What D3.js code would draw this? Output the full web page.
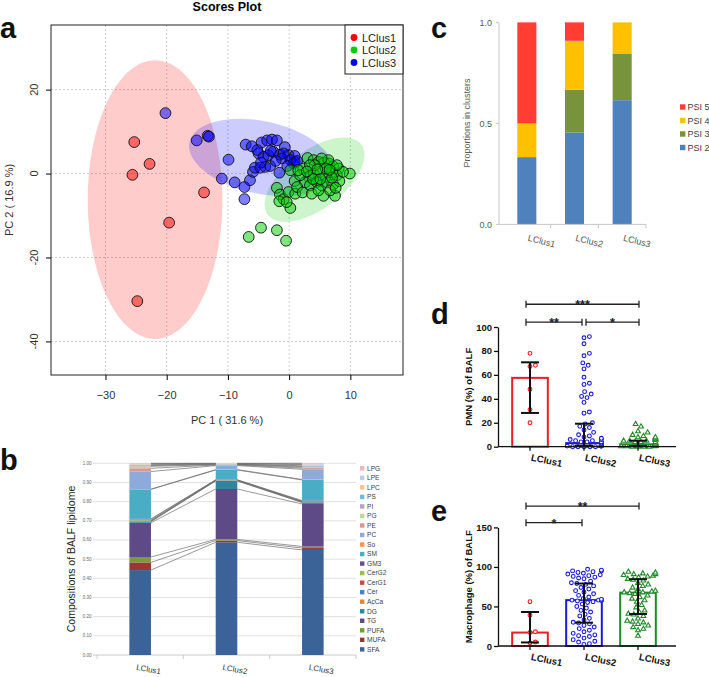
<!DOCTYPE html>
<html>
<head>
<meta charset="utf-8">
<script src="https://cdn.jsdelivr.net/npm/d3@7"></script>
<style>
  body { margin: 0; background: #fff; }
  svg { display: block; font-family: 'Liberation Sans', Arial, sans-serif; }
</style>
</head>
<body>
<div id="chart"></div>
<script>
// ---------- data ----------
const clusters = ['LClus1', 'LClus2', 'LClus3']

// panel a: PCA scores [PC1, PC2]
const lclus1Scores = [[-25.3, 7.5], [-22.8, 2.3], [-25.6, -0.3], [-13.9, -4.5], [-19.6, -11.7], [-24.8, -30.4]]
const lclus3Scores = [
  [-20.2, 14.4], [-15.1, 7.9], [-13.3, 9.0], [-13.1, 8.8], [-9.9, 3.3], [-11.0, -1.2], [-8.9, -2.1],
  [-7.3, -3.2], [-7.3, -6.1], [-6.4, -1.6], [-5.9, 0.4], [-5.6, 1.4], [-4.7, 1.4], [-3.9, 1.6],
  [-3.1, 1.8], [-7.1, 6.9], [-6.1, 6.5], [-4.5, 7.4], [-3.6, 7.9], [-2.8, 8.1], [-2.0, 7.9],
  [-5.0, 4.8], [-4.2, 4.0], [-3.4, 4.4], [-2.6, 5.2], [-1.5, 4.5], [-0.7, 6.3], [-0.1, 4.4],
  [0.9, 4.2], [0.7, 2.4], [0.9, 2.8], [-0.9, 4.8], [-1.6, 0.2], [-3.0, 5.4], [-1.2, 3.6],
  [-2.2, 3.0], [0.2, 3.2], [1.3, 3.0], [-4.6, 2.6], [-5.2, 5.6], [-0.3, 1.8]
]
const lclus2Scores = [
  [-6.6, -15.1], [-4.6, -12.9], [-2.0, -13.5], [-0.5, -16.0],
  [-2.0, -3.4], [-1.5, -5.0], [-0.9, -6.1], [-1.6, -6.6], [0.2, -8.2], [0.9, -1.8], [0.2, 0.8],
  [-0.1, -4.4], [1.0, -4.8], [-0.4, -6.8],
  [3.0, 3.7], [4.0, 3.2], [4.8, 2.8], [5.7, 2.6], [6.5, 2.4], [7.2, 1.7], [8.1, 1.2], [9.9, 0.0],
  [2.3, 1.2], [3.2, -0.8], [4.0, 0.0], [5.1, 0.4], [5.9, -0.8], [7.0, 0.4], [7.8, -0.4],
  [2.6, -2.1], [3.4, -2.8], [4.5, -2.0], [5.3, -2.8], [6.2, -2.1], [7.2, -2.6], [8.2, -1.8],
  [1.3, -3.2], [2.2, -4.5], [3.7, -4.8], [5.6, -5.3], [7.5, -5.3], [6.7, -4.0], [4.8, -4.0],
  [1.8, -0.4], [8.8, 0.4], [7.8, 2.0], [6.4, 3.2], [5.3, 3.6], [4.2, 2.0], [3.4, 2.0], [1.5, 0.8],
  [6.0, 1.2], [7.0, -1.0], [3.9, -1.3], [5.1, -1.3], [6.6, 0.9], [4.6, 1.0], [7.6, -3.4], [2.9, 0.5]
]
// 95% ellipses: centre and two conjugate semi-axis vectors (PC units)
const scoreEllipses = [
  { name: 'LClus1', cx: -21.9, cy: -6.2, ux: 0, uy: 33.2, vx: 11, vy: 0 },
  { name: 'LClus2', cx: 4.15, cy: -1.45, ux: 7.63, uy: 8.38, vx: -2.87, vy: 5.55 },
  { name: 'LClus3', cx: -4.6, cy: 3.85, ux: 11.68, uy: -3.62, vx: 1.23, vy: 8.45 }
]
const scoreXTicks = [-30, -20, -10, 0, 10]
const scoreYTicks = [-40, -20, 0, 20]

// panel b: lipid class composition (bottom to top)
const lipidClasses = ['SFA', 'MUFA', 'PUFA', 'TG', 'DG', 'AcCa', 'Cer', 'CerG1', 'CerG2', 'GM3',
  'SM', 'So', 'PC', 'PE', 'PG', 'PI', 'PS', 'LPC', 'LPE', 'LPG']
const lclus1Lipids = [0.443, 0.040, 0.028, 0.179, 0.006, 0.001, 0.003, 0.002, 0.006, 0.002,
  0.154, 0.001, 0.092, 0.017, 0.010, 0.004, 0.004, 0.003, 0.003, 0.002]
const lclus2Lipids = [0.588, 0.009, 0.006, 0.263, 0.042, 0.001, 0.002, 0.001, 0.001, 0.001,
  0.051, 0.002, 0.021, 0.003, 0.002, 0.002, 0.001, 0.002, 0.001, 0.001]
const lclus3Lipids = [0.548, 0.010, 0.008, 0.222, 0.008, 0.001, 0.003, 0.001, 0.001, 0.004,
  0.107, 0.003, 0.053, 0.006, 0.005, 0.004, 0.003, 0.006, 0.003, 0.004]
const lipidTicks = [0, 0.1, 0.2, 0.3, 0.4, 0.5, 0.6, 0.7, 0.8, 0.9, 1.0]

// panel c: PSI proportions
const psiLevels = ['PSI 2', 'PSI 3', 'PSI 4', 'PSI 5']
const lclus1Psi = [0.333, 0, 0.167, 0.5]
const lclus2Psi = [0.455, 0.212, 0.242, 0.091]
const lclus3Psi = [0.615, 0.231, 0.154, 0]

// panel d: PMN (%) of BALF
const pmnLclus1 = [78, 68, 67, 48, 31, 20]
const pmnLclus2 = [92, 91, 86, 78, 76, 70, 68, 65, 58, 53, 52, 46, 44, 42, 41, 37, 29, 28, 20, 19,
  17, 16, 14, 12, 10, 9, 8, 7, 6, 6, 5, 5, 4, 4, 4, 3, 3, 3, 3, 3, 2, 2, 2, 2, 2, 2, 2,
  1, 1, 1, 1, 1, 1, 1, 1, 0.5, 0.5, 0.5, 0.5, 0, 0, 0, 0, 0]
const pmnLclus3 = [19, 17, 13, 12, 10, 9, 8, 8, 7, 7, 6, 6, 5, 5, 5, 4, 4, 4, 3, 3, 3, 3,
  2, 2, 2, 2, 2, 1, 1, 1, 1, 1, 1, 0.5, 0.5, 0.5, 0, 0, 0, 0]
const pmnMedian = [57.5, 3, 2]
const pmnQ1 = [28.2, 0.9, 0.5]
const pmnQ3 = [70.5, 19.2, 5]
const pmnTicks = [0, 20, 40, 60, 80, 100]
const pmnSig = [{ a: 0, b: 2, level: 119, label: '***' }, { a: 0, b: 1, level: 104, label: '**' }, { a: 1, b: 2, level: 104, label: '*' }]

// panel e: Macrophage (%) of BALF
const macLclus1 = [56, 39, 18, 17, 5, 4]
const macLclus2 = [97, 96, 95, 95, 94, 93, 92, 91, 90, 89, 88, 87, 86, 85, 82, 80, 79, 78, 76, 74,
  72, 70, 68, 66, 64, 62, 60, 59, 58, 58, 58, 58, 58, 57, 56, 55, 53, 50, 48, 45, 43, 40, 38, 35,
  33, 30, 29, 28, 26, 24, 22, 20, 18, 16, 14, 13, 12, 10, 8, 6, 5, 3, 2]
const macLclus3 = [94, 93, 92, 91, 91, 90, 89, 88, 87, 85, 84, 83, 80, 78, 76, 74, 72, 70, 69, 68,
  68, 67, 66, 64, 62, 60, 58, 56, 52, 49, 45, 43, 41, 40, 38, 35, 32, 31, 30, 28, 26, 24, 22, 20, 13]
const macMedian = [17, 58, 67.5]
const macQ1 = [4.5, 29.5, 40.5]
const macQ3 = [43, 79, 84.5]
const macTicks = [0, 50, 100, 150]
const macSig = [{ a: 0, b: 2, level: 177, label: '**' }, { a: 0, b: 1, level: 156, label: '*' }]

// ---------- styles ----------
const scoreColors = ['#ff0000', '#00cd00', '#0000ff']
const lipidColors = ['#3b6397', '#9a3634', '#7a9a3e', '#5e4a86', '#31859c', '#e0863a', '#4f81bd',
  '#c0504d', '#9bbb59', '#6a4f93', '#4bacc6', '#f79646', '#8eaadb', '#d99694', '#c3d69b',
  '#b2a2c7', '#6cc0d6', '#fac08f', '#b9cde5', '#e6b9b8']
const psiColors = ['#4f81bd', '#77933c', '#ffc000', '#ff3d33']
const dotColors = ['#ee1c24', '#1a1adb', '#1f8a2a']

const svg = d3.select('#chart').append('svg').attr('width', 709).attr('height', 677)
svg.append('rect').attr('width', 709).attr('height', 677).attr('fill', '#ffffff')

const panelLabel = (t, x, y) => svg.append('text').attr('x', x).attr('y', y)
  .attr('font-size', 29).attr('font-weight', 'bold').attr('fill', '#111').text(t)

// ================= panel a =================
const xA = d3.scaleLinear().domain([-38.9, 18.6]).range([51, 403])
const yA = d3.scaleLinear().domain([-48, 35.4]).range([375, 25])
const gA = svg.append('g')

gA.selectAll('.gx').data(scoreXTicks).join('line')
  .attr('x1', (d) => xA(d)).attr('x2', (d) => xA(d)).attr('y1', 25).attr('y2', 375)
  .attr('stroke', '#cfcfcf').attr('stroke-dasharray', '2,2')
gA.selectAll('.gy').data(scoreYTicks).join('line')
  .attr('x1', 51).attr('x2', 403).attr('y1', (d) => yA(d)).attr('y2', (d) => yA(d))
  .attr('stroke', '#cfcfcf').attr('stroke-dasharray', '2,2')

const ellipseLine = d3.line().curve(d3.curveLinearClosed)
gA.selectAll('.ell').data(scoreEllipses).join('path')
  .attr('d', (e) => ellipseLine(d3.range(0, 360, 3).map((t) => {
    const r = (t * Math.PI) / 180
    return [xA(e.cx + e.ux * Math.cos(r) + e.vx * Math.sin(r)), yA(e.cy + e.uy * Math.cos(r) + e.vy * Math.sin(r))]
  })))
  .attr('fill', (e, i) => scoreColors[i]).attr('fill-opacity', 0.2)

const drawScores = (pts, color) => {
  gA.append('g').selectAll('circle').data(pts).join('circle')
    .attr('cx', (d) => xA(d[0])).attr('cy', (d) => yA(d[1])).attr('r', 5.4)
    .attr('fill', color).attr('fill-opacity', 0.5)
    .attr('stroke', '#111').attr('stroke-width', 0.9)
}
drawScores(lclus1Scores, scoreColors[0])
drawScores(lclus3Scores, scoreColors[2])
drawScores(lclus2Scores, scoreColors[1])

gA.append('rect').attr('x', 51).attr('y', 25).attr('width', 352).attr('height', 350)
  .attr('fill', 'none').attr('stroke', '#222')

const axA = gA.append('g').attr('transform', 'translate(0,375)')
  .call(d3.axisBottom(xA).tickValues(scoreXTicks).tickSize(5).tickPadding(11).tickSizeOuter(0))
axA.select('.domain').remove()
axA.selectAll('text').attr('font-size', 11).attr('fill', '#333').attr('font-family', 'Liberation Sans')

const ayA = gA.append('g').attr('transform', 'translate(51,0)')
  .call(d3.axisLeft(yA).tickValues(scoreYTicks).tickSize(5).tickFormat(''))
ayA.select('.domain').remove()
gA.selectAll('.ylab').data(scoreYTicks).join('text')
  .attr('transform', (d) => `translate(38,${yA(d)}) rotate(-90)`)
  .attr('text-anchor', 'middle').attr('font-size', 11).attr('fill', '#333').text((d) => d)

gA.append('text').attr('x', 227).attr('y', 11).attr('text-anchor', 'middle')
  .attr('font-size', 12.5).attr('font-weight', 'bold').text('Scores Plot')
gA.append('text').attr('x', 227).attr('y', 424).attr('text-anchor', 'middle')
  .attr('font-size', 11).attr('fill', '#333').text('PC 1 ( 31.6 %)')
gA.append('text').attr('transform', 'translate(13,200) rotate(-90)').attr('text-anchor', 'middle')
  .attr('font-size', 11).attr('fill', '#333').text('PC 2 ( 16.9 %)')

const legA = gA.append('g')
legA.append('rect').attr('x', 345).attr('y', 25).attr('width', 58).attr('height', 49)
  .attr('fill', '#fff').attr('stroke', '#222')
clusters.forEach((c, i) => {
  legA.append('circle').attr('cx', 354).attr('cy', 37.5 + i * 12.5).attr('r', 3.4).attr('fill', scoreColors[i])
  legA.append('text').attr('x', 362).attr('y', 41.5 + i * 12.5).attr('font-size', 11).attr('fill', '#222').text(c)
})
panelLabel('a', 0, 38)

// ================= panel b =================
const lipidTable = [lclus1Lipids, lclus2Lipids, lclus3Lipids].map((vals, i) => {
  const row = { cluster: clusters[i] }
  lipidClasses.forEach((k, j) => { row[k] = vals[j] })
  return row
})
const lipidStack = d3.stack().keys(lipidClasses)(lipidTable)
const xB = d3.scaleBand().domain(clusters).range([97, 356])
const yB = d3.scaleLinear().domain([0, 1]).range([655, 463.3])
const barWB = xB.bandwidth() * 0.25
const gB = svg.append('g')

gB.selectAll('.grid').data(lipidTicks).join('line')
  .attr('x1', 93).attr('x2', 356).attr('y1', (d) => yB(d)).attr('y2', (d) => yB(d))
  .attr('stroke', (d) => (d === 0 ? '#bfbfbf' : '#d9d9d9')).attr('stroke-width', 0.8)
gB.selectAll('.tl').data(lipidTicks).join('text')
  .attr('x', 91.5).attr('y', (d) => yB(d) + 1.5).attr('text-anchor', 'end')
  .attr('font-size', 4.5).attr('fill', '#666').text((d) => d.toFixed(2))
gB.selectAll('.xt').data(d3.range(clusters.length + 1)).join('line')
  .attr('x1', (d) => 97 + d * xB.step()).attr('x2', (d) => 97 + d * xB.step())
  .attr('y1', 655).attr('y2', 659).attr('stroke', '#bfbfbf').attr('stroke-width', 0.8)

gB.selectAll('.series').data(lipidStack).join('g')
  .attr('fill', (d, i) => lipidColors[i])
  .selectAll('rect').data((d) => d).join('rect')
  .attr('x', (d) => xB(d.data.cluster) + (xB.bandwidth() - barWB) / 2)
  .attr('y', (d) => yB(d[1])).attr('height', (d) => yB(d[0]) - yB(d[1]))
  .attr('width', barWB)

// series lines between neighbouring bars
lipidStack.forEach((s) => {
  for (let i = 0; i < clusters.length - 1; i++) {
    gB.append('line')
      .attr('x1', xB(clusters[i]) + (xB.bandwidth() + barWB) / 2).attr('y1', yB(s[i][1]))
      .attr('x2', xB(clusters[i + 1]) + (xB.bandwidth() - barWB) / 2).attr('y2', yB(s[i + 1][1]))
      .attr('stroke', '#6f6f6f').attr('stroke-width', 0.7)
  }
})

gB.selectAll('.xl').data(clusters).join('text')
  .attr('transform', (d) => `translate(${xB(d) + xB.bandwidth() / 2 + 8},672) rotate(10)`)
  .attr('text-anchor', 'middle').attr('font-size', 8).attr('fill', '#333').text((d) => d)
gB.append('text').attr('transform', 'translate(75,559) rotate(-90)').attr('text-anchor', 'middle')
  .attr('font-size', 10.5).attr('fill', '#222').text('Compositions of BALF lipidome')

const legB = gB.append('g')
lipidClasses.slice().reverse().forEach((k, i) => {
  const y = 468.3 + i * 9.53
  legB.append('rect').attr('x', 360).attr('y', y - 2.2).attr('width', 4.4).attr('height', 4.4)
    .attr('fill', lipidColors[lipidClasses.length - 1 - i])
  legB.append('text').attr('x', 367).attr('y', y + 2.3).attr('font-size', 6.6).attr('fill', '#404040').text(k)
})
panelLabel('b', 0, 470)

// ================= panel c =================
const psiTable = [lclus1Psi, lclus2Psi, lclus3Psi].map((vals, i) => {
  const row = { cluster: clusters[i] }
  psiLevels.forEach((k, j) => { row[k] = vals[j] })
  return row
})
const psiStack = d3.stack().keys(psiLevels)(psiTable)
const xC = d3.scaleBand().domain(clusters).range([503, 646])
const yC = d3.scaleLinear().domain([0, 1]).range([224.4, 22.4])
const barWC = xC.bandwidth() * 0.4
const gC = svg.append('g')

gC.selectAll('.series').data(psiStack).join('g')
  .attr('fill', (d, i) => psiColors[i])
  .selectAll('rect').data((d) => d).join('rect')
  .attr('x', (d) => xC(d.data.cluster) + (xC.bandwidth() - barWC) / 2)
  .attr('y', (d) => yC(d[1])).attr('height', (d) => yC(d[0]) - yC(d[1]))
  .attr('width', barWC)

gC.append('line').attr('x1', 499).attr('x2', 499).attr('y1', yC(1)).attr('y2', yC(0)).attr('stroke', '#c8c8c8')
gC.append('line').attr('x1', 499).attr('x2', 646).attr('y1', yC(0)).attr('y2', yC(0)).attr('stroke', '#c8c8c8')
gC.selectAll('.yt').data([0, 0.5, 1]).join('line')
  .attr('x1', 496).attr('x2', 499).attr('y1', (d) => yC(d)).attr('y2', (d) => yC(d)).attr('stroke', '#c8c8c8')
gC.selectAll('.yl').data([0, 0.5, 1]).join('text')
  .attr('x', 492).attr('y', (d) => yC(d) + 3.2).attr('text-anchor', 'end')
  .attr('font-size', 9).attr('fill', '#595959').text((d) => d.toFixed(1))
gC.selectAll('.xt').data(d3.range(1, clusters.length + 1)).join('line')
  .attr('x1', (d) => 503 + d * xC.step()).attr('x2', (d) => 503 + d * xC.step())
  .attr('y1', yC(0)).attr('y2', yC(0) + 4).attr('stroke', '#c8c8c8')
gC.selectAll('.xl').data(clusters).join('text')
  .attr('transform', (d) => `translate(${xC(d) + xC.bandwidth() / 2 + 14},244) rotate(15)`)
  .attr('text-anchor', 'middle').attr('font-size', 9).attr('fill', '#595959').text((d) => d)
gC.append('text').attr('transform', 'translate(470,123) rotate(-90)').attr('text-anchor', 'middle')
  .attr('font-size', 9).attr('fill', '#595959').text('Proportions in clusters')

psiLevels.slice().reverse().forEach((k, i) => {
  const y = 107 + i * 13.5
  gC.append('rect').attr('x', 680).attr('y', y - 2.7).attr('width', 5.4).attr('height', 5.4)
    .attr('fill', psiColors[psiLevels.length - 1 - i])
  gC.append('text').attr('x', 687.5).attr('y', y + 3.3).attr('font-size', 9).attr('fill', '#404040').text(k)
})
panelLabel('c', 431, 38)

// ================= panels d and e =================
const swarm = (values, y, r, maxW) => {
  const placed = []
  return values.slice().sort((a, b) => a - b).map((v) => {
    const py = y(v)
    let off = 0
    for (let k = 0; k < 400; k++) {
      const o = (k % 2 ? 1 : -1) * Math.ceil(k / 2) * 0.6
      off = o
      if (Math.abs(o) > maxW) break
      if (placed.every((p) => (p[0] - o) ** 2 + (p[1] - py) ** 2 >= (2 * r) ** 2)) break
    }
    placed.push([off, py])
    return [off, py]
  })
}

const drawDotPanel = (opt) => {
  const g = svg.append('g')
  const x = d3.scaleBand().domain(clusters).range([503, 665])
  const y = d3.scaleLinear().domain(opt.domain).range(opt.range)
  const cx = (i) => x(clusters[i]) + x.bandwidth() / 2
  const barW = x.bandwidth() * 0.66

  // bars (median)
  g.selectAll('.bar').data(opt.median).join('rect')
    .attr('x', (d, i) => cx(i) - barW / 2).attr('y', (d) => y(d))
    .attr('width', barW).attr('height', (d) => y(0) - y(d))
    .attr('fill', 'none').attr('stroke', (d, i) => dotColors[i]).attr('stroke-width', 2)

  // points
  opt.points.forEach((vals, i) => {
    const pos = swarm(vals, y, 2.7, barW / 2 - 1)
    const pg = g.append('g').attr('stroke', dotColors[i]).attr('fill', '#fff').attr('stroke-width', 1.1)
    if (i === 2) {
      pg.selectAll('path').data(pos).join('path')
        .attr('d', (p) => `M${cx(i) + p[0]},${p[1] - 2.6}L${cx(i) + p[0] + 2.4},${p[1] + 1.6}L${cx(i) + p[0] - 2.4},${p[1] + 1.6}Z`)
    } else {
      pg.selectAll('circle').data(pos).join('circle')
        .attr('cx', (p) => cx(i) + p[0]).attr('cy', (p) => p[1]).attr('r', 1.9)
    }
  })

  // IQR error bars
  opt.median.forEach((m, i) => {
    g.append('line').attr('x1', cx(i)).attr('x2', cx(i)).attr('y1', y(opt.q1[i])).attr('y2', y(opt.q3[i]))
      .attr('stroke', '#111').attr('stroke-width', 2)
    ;[opt.q1[i], opt.q3[i]].forEach((q) => {
      g.append('line').attr('x1', cx(i) - 9).attr('x2', cx(i) + 9).attr('y1', y(q)).attr('y2', y(q))
        .attr('stroke', '#111').attr('stroke-width', 2)
    })
  })

  // axes
  const ay = g.append('g').attr('transform', 'translate(498,0)')
    .call(d3.axisLeft(y).tickValues(opt.ticks).tickSize(4).tickPadding(2).tickSizeOuter(0))
  ay.selectAll('path,line').attr('stroke', '#111').attr('stroke-width', 1.3)
  ay.selectAll('text').attr('font-size', 9.5).attr('font-weight', 'bold').attr('fill', '#111')
    .attr('font-family', 'Liberation Sans')
  g.append('line').attr('x1', 498).attr('x2', 676).attr('y1', y(0)).attr('y2', y(0))
    .attr('stroke', '#111').attr('stroke-width', 1.3)
  g.selectAll('.xt').data(clusters).join('line')
    .attr('x1', (d, i) => cx(i)).attr('x2', (d, i) => cx(i)).attr('y1', y(0)).attr('y2', y(0) + 4)
    .attr('stroke', '#111').attr('stroke-width', 1.3)
  g.selectAll('.xl').data(clusters).join('text')
    .attr('transform', (d, i) => `translate(${cx(i) + 16},${y(0) + 17}) rotate(12)`)
    .attr('text-anchor', 'middle').attr('font-size', 9.5).attr('font-weight', 'bold').attr('fill', '#111').text((d) => d)
  g.append('text').attr('transform', `translate(472,${(opt.range[0] + opt.range[1]) / 2}) rotate(-90)`)
    .attr('text-anchor', 'middle').attr('font-size', 9.5).attr('font-weight', 'bold').attr('fill', '#111')
    .text(opt.label)

  // significance brackets
  opt.sig.forEach((s) => {
    const x1 = cx(s.a) - 4 + (s.a > 0 ? 6 : 0)
    const x2 = cx(s.b) + (s.b === 1 && s.a === 0 ? -2 : 1)
    const yy = y(s.level)
    g.append('path').attr('d', `M${x1},${yy - 3.5}V${yy + 3.5}M${x1},${yy}H${x2}M${x2},${yy - 3.5}V${yy + 3.5}`)
      .attr('stroke', '#222').attr('stroke-width', 1.3).attr('fill', 'none')
    g.append('text').attr('x', (x1 + x2) / 2).attr('y', yy + 5).attr('text-anchor', 'middle')
      .attr('font-size', 12.5).attr('font-weight', 'bold').attr('fill', '#222').text(s.label)
  })
}

drawDotPanel({
  domain: [0, 100], range: [446.7, 327], ticks: pmnTicks,
  points: [pmnLclus1, pmnLclus2, pmnLclus3], median: pmnMedian, q1: pmnQ1, q3: pmnQ3,
  sig: pmnSig, label: 'PMN (%) of BALF'
})
drawDotPanel({
  domain: [0, 150], range: [646, 527.4], ticks: macTicks,
  points: [macLclus1, macLclus2, macLclus3], median: macMedian, q1: macQ1, q3: macQ3,
  sig: macSig, label: 'Macrophage (%) of BALF'
})
panelLabel('d', 431, 324)
panelLabel('e', 431, 521)
</script>
</body>
</html>
